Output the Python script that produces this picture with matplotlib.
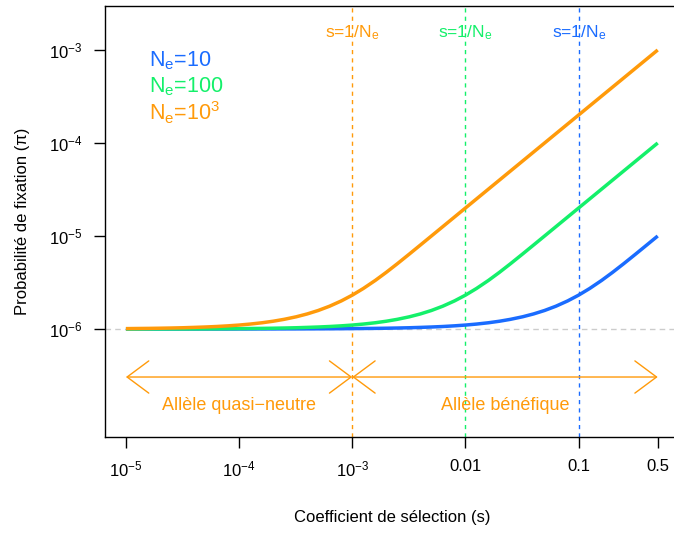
import numpy as np
import matplotlib
matplotlib.use('Agg')
import matplotlib.pyplot as plt

plt.rcParams['font.family'] = ['Liberation Sans', 'DejaVu Sans']
plt.rcParams['mathtext.fontset'] = 'custom'
plt.rcParams['mathtext.rm'] = 'Liberation Sans'
plt.rcParams['mathtext.it'] = 'Liberation Sans:italic'
plt.rcParams['mathtext.sf'] = 'Liberation Sans'

# ---- data ----
s = [1e-5, 1.25e-5, 1.6e-5, 2e-5, 2.5e-5, 3.2e-5, 4e-5, 5e-5, 6.3e-5, 8e-5,
     1e-4, 1.25e-4, 1.6e-4, 2e-4, 2.5e-4, 3.2e-4, 4e-4, 5e-4, 6.3e-4, 8e-4,
     1e-3, 1.25e-3, 1.6e-3, 2e-3, 2.5e-3, 3.2e-3, 4e-3, 5e-3, 6.3e-3, 8e-3,
     0.01, 0.0125, 0.016, 0.02, 0.025, 0.032, 0.04, 0.05, 0.063, 0.08,
     0.1, 0.125, 0.16, 0.2, 0.25, 0.32, 0.4, 0.5]
# fixation probability, in units of 1e-6
pi_ne10 = [1.000, 1.000, 1.000, 1.000, 1.000, 1.000, 1.000, 1.000, 1.000, 1.000,
           1.001, 1.001, 1.002, 1.002, 1.003, 1.003, 1.004, 1.005, 1.006, 1.008,
           1.010, 1.013, 1.016, 1.020, 1.025, 1.032, 1.041, 1.051, 1.064, 1.082,
           1.103, 1.130, 1.168, 1.213, 1.271, 1.354, 1.453, 1.582, 1.759, 2.005,
           2.313, 2.724, 3.336, 4.075, 5.034, 6.411, 8.003, 10.0]
pi_ne100 = [1.001, 1.001, 1.002, 1.002, 1.003, 1.003, 1.004, 1.005, 1.006, 1.008,
            1.010, 1.013, 1.016, 1.020, 1.025, 1.032, 1.041, 1.051, 1.064, 1.082,
            1.103, 1.130, 1.168, 1.213, 1.271, 1.354, 1.453, 1.582, 1.759, 2.005,
            2.313, 2.724, 3.336, 4.075, 5.034, 6.411, 8.003, 10.0, 12.6, 16.0,
            20.0, 25.0, 32.0, 40.0, 50.0, 64.0, 80.0, 100.0]
pi_ne1000 = [1.010, 1.013, 1.016, 1.020, 1.025, 1.032, 1.041, 1.051, 1.064, 1.082,
             1.103, 1.130, 1.168, 1.213, 1.271, 1.354, 1.453, 1.582, 1.759, 2.005,
             2.313, 2.724, 3.336, 4.075, 5.034, 6.411, 8.003, 10.0, 12.6, 16.0,
             20.0, 25.0, 32.0, 40.0, 50.0, 64.0, 80.0, 100.0, 126.0, 160.0,
             200.0, 250.0, 320.0, 400.0, 500.0, 640.0, 800.0, 1000.0]
scale = 1e-6

series = [('N$_\\mathrm{e}$=10', pi_ne10, '#1a6cff', 0.1),
          ('N$_\\mathrm{e}$=100', pi_ne100, '#14f06a', 0.01),
          ('N$_\\mathrm{e}$=10$^\\mathrm{3}$', pi_ne1000, '#ff9a0a', 1e-3)]

xticks = [1e-5, 1e-4, 1e-3, 0.01, 0.1, 0.5]
xticklabels = ['10$^{-5}$', '10$^{-4}$', '10$^{-3}$', '0.01', '0.1', '0.5']
yticks = [1e-6, 1e-5, 1e-4, 1e-3]
yticklabels = ['10$^{-6}$', '10$^{-5}$', '10$^{-4}$', '10$^{-3}$']

orange = '#ff9a0a'

fig = plt.figure(figsize=(6.74, 5.33), dpi=100)
ax = fig.add_axes([105 / 674, 96 / 533, 574 / 674, 431 / 533])
ax.set_xscale('log')
ax.set_yscale('log')
ax.set_xlim(10 ** -5.185, 10 ** -0.113)
ax.set_ylim(10 ** -7.161, 10 ** -2.527)

# reference lines
ax.axhline(1e-6, color='#cccccc', ls=(0, (4, 3)), lw=1, zorder=1)
for label, vals, col, sline in series:
    ax.axvline(sline, color=col, ls=(0, (3, 3)), lw=1, zorder=1)
    ax.text(sline, 10 ** -2.817, 's=1/N$_\\mathrm{e}$', color=col, fontsize=12.5,
            ha='center', va='center')

# curves
for label, vals, col, sline in series:
    ax.plot(s, np.array(vals) * scale, color=col, lw=2.5, zorder=3,
            solid_capstyle='butt', solid_joinstyle='round')

# legend text
leg_y = [10 ** -3.11, 10 ** -3.40, 10 ** -3.68]
for (label, vals, col, sline), yy in zip(series, leg_y):
    ax.text(10 ** -4.795, yy, label, color=col, fontsize=15.5, ha='left', va='center')

# arrows for regions
arr_y = 10 ** -6.516
for x0, x1 in [(1e-5, 1e-3), (1e-3, 0.5)]:
    ax.annotate('', xy=(x1, arr_y), xytext=(x0, arr_y),
                arrowprops=dict(arrowstyle='<->,head_length=0.78,head_width=0.58',
                                mutation_scale=20, color=orange, lw=1,
                                shrinkA=0, shrinkB=0))
txt_y = 10 ** -6.817
ax.text(1e-4, txt_y, 'Allèle quasi\u2212neutre', color=orange, fontsize=13,
        ha='center', va='center')
ax.text(np.sqrt(1e-3 * 0.5), txt_y, 'Allèle bénéfique', color=orange, fontsize=13,
        ha='center', va='center')

ax.set_xticks(xticks)
ax.set_xticklabels(xticklabels)
ax.set_yticks(yticks)
ax.set_yticklabels(yticklabels)
ax.minorticks_off()
ax.tick_params(axis='both', length=8, width=1, labelsize=12, pad=8, direction='out')
ax.set_xlabel('Coefficient de sélection (s)', fontsize=12, labelpad=22)
ax.set_ylabel('Probabilité de fixation (π)', fontsize=12, labelpad=14)
for sp in ax.spines.values():
    sp.set_linewidth(1)

fig.savefig('out.png', dpi=100)
